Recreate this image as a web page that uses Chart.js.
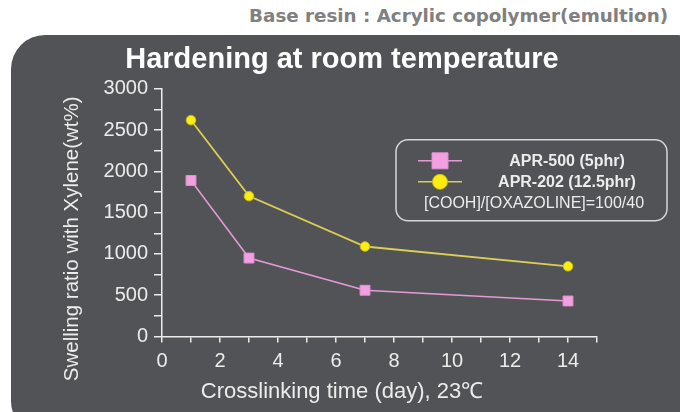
<!DOCTYPE html>
<html lang="en">
    <head>
        <meta charset="utf-8" />
        <script src="https://cdn.jsdelivr.net/npm/chart.js@4.4.1/dist/chart.umd.min.js"></script>
        <title>Hardening at room temperature</title>
        <style>
            body { margin: 0; background: #fff; width: 680px; height: 412px; overflow: hidden; position: relative; }
            #base { position: absolute; right: 12px; top: 5px; font: bold 18.3px "DejaVu Sans", sans-serif; color: #808080; }
            #panel { position: absolute; left: 11px; top: 35px; width: 700px; height: 400px; border-radius: 34px; background: #525357; }
            #grafico { position: absolute; left: 0; top: 0; }
        </style>
    </head>
    <body>
        <div id="base">Base resin : Acrylic copolymer(emultion)</div>
        <div id="panel"></div>
        <canvas id="grafico" width="680" height="412"></canvas>
        <script>
            // datos
            const dias = [1, 3, 7, 14];
            const apr500 = [1890, 950, 560, 430];
            const apr202 = [2620, 1700, 1090, 850];
            const nombres = ["APR-500 (5phr)", "APR-202 (12.5phr)"];
            const nota = "[COOH]/[OXAZOLINE]=100/40";
            const tituloY = "Swelling ratio with Xylene(wt%)";
            const tituloX = "Crosslinking time (day), 23\u2103";

            const blanco = "#ececec";
            const letra = "'Liberation Sans', Arial, sans-serif";

            // titulos de ejes y cuadro de leyenda
            const extras = {
                id: "extras",
                afterDraw(chart) {
                    const ctx = chart.ctx;
                    const a = chart.chartArea;
                    ctx.save();
                    ctx.fillStyle = blanco;
                    ctx.textAlign = "center";
                    ctx.textBaseline = "middle";
                    ctx.font = "22px " + letra;
                    ctx.fillText(tituloX, a.left + 180, a.bottom + 55);
                    ctx.save();
                    ctx.font = "20.5px " + letra;
                    ctx.translate(a.left - 90, a.top + 150);
                    ctx.rotate(-Math.PI / 2);
                    ctx.fillText(tituloY, 0, 0);
                    ctx.restore();

                    // cuadro
                    const bx = a.left + 234, by = a.top + 51, bw = 271, bh = 81;
                    ctx.strokeStyle = "#d6d6d6";
                    ctx.lineWidth = 1.5;
                    ctx.beginPath();
                    ctx.roundRect(bx, by, bw, bh, 12);
                    ctx.stroke();

                    chart.data.datasets.forEach((ds, i) => {
                        const y = by + 21 + i * 21;
                        ctx.strokeStyle = ds.borderColor;
                        ctx.lineWidth = 1.5;
                        ctx.beginPath();
                        ctx.moveTo(bx + 22, y);
                        ctx.lineTo(bx + 66, y);
                        ctx.stroke();
                        ctx.fillStyle = ds.pointBackgroundColor;
                        ctx.strokeStyle = ds.pointBorderColor;
                        ctx.lineWidth = 1;
                        ctx.beginPath();
                        if (ds.pointStyle === "rect") {
                            ctx.rect(bx + 36, y - 8, 16, 16);
                        } else {
                            ctx.arc(bx + 44, y, 7.5, 0, Math.PI * 2);
                        }
                        ctx.fill();
                        ctx.stroke();
                        ctx.fillStyle = blanco;
                        ctx.font = "bold 16px " + letra;
                        ctx.fillText(ds.label, bx + 171, y + 1);
                    });
                    ctx.font = "16px " + letra;
                    ctx.fillText(nota, bx + 138, by + 64);
                    ctx.restore();
                }
            };

            new Chart(document.getElementById("grafico"), {
                type: "line",
                data: {
                    datasets: [
                        {
                            label: nombres[0],
                            data: dias.map((d, i) => ({ x: d, y: apr500[i] })),
                            borderColor: "#e39ad5",
                            borderWidth: 1.5,
                            pointStyle: "rect",
                            pointRadius: 7,
                            pointBackgroundColor: "#f2a0df",
                            pointBorderColor: "#e08fd2",
                            pointBorderWidth: 1
                        },
                        {
                            label: nombres[1],
                            data: dias.map((d, i) => ({ x: d, y: apr202[i] })),
                            borderColor: "#dccd55",
                            borderWidth: 1.8,
                            pointStyle: "circle",
                            pointRadius: 4.8,
                            pointBackgroundColor: "#fbec12",
                            pointBorderColor: "#c9b81a",
                            pointBorderWidth: 1
                        }
                    ]
                },
                options: {
                    responsive: false,
                    animation: false,
                    devicePixelRatio: 1,
                    layout: { padding: { left: 87, right: 83, top: 0, bottom: 0 } },
                    plugins: {
                        legend: { display: false },
                        tooltip: { enabled: false },
                        title: {
                            display: true,
                            text: "Hardening at room temperature",
                            color: "#ffffff",
                            font: { family: letra, size: 29, weight: "bold" },
                            padding: { top: 43, bottom: 11 }
                        }
                    },
                    scales: {
                        x: {
                            type: "linear",
                            min: 0,
                            max: 15,
                            afterFit(s) { s.height = 75.5; },
                            border: { display: true, color: blanco, width: 1.5 },
                            grid: { drawOnChartArea: false, drawTicks: true, tickLength: 6, color: blanco, lineWidth: 1.5 },
                            ticks: {
                                stepSize: 1,
                                autoSkip: false,
                                maxRotation: 0,
                                padding: 7,
                                color: blanco,
                                font: { family: letra, size: 20 },
                                callback: v => (v % 2 === 0 && v <= 14 ? String(v) : "")
                            }
                        },
                        y: {
                            min: 0,
                            max: 3000,
                            afterFit(s) { s.width = 75; },
                            border: { display: true, color: blanco, width: 1.5 },
                            grid: { drawOnChartArea: false, drawTicks: true, tickLength: 8, color: blanco, lineWidth: 1.5 },
                            ticks: {
                                stepSize: 250,
                                autoSkip: false,
                                padding: 6,
                                color: blanco,
                                font: { family: letra, size: 20 },
                                callback: v => (v % 500 === 0 ? String(v) : "")
                            }
                        }
                    }
                },
                plugins: [extras]
            });
        </script>
    </body>
</html>
